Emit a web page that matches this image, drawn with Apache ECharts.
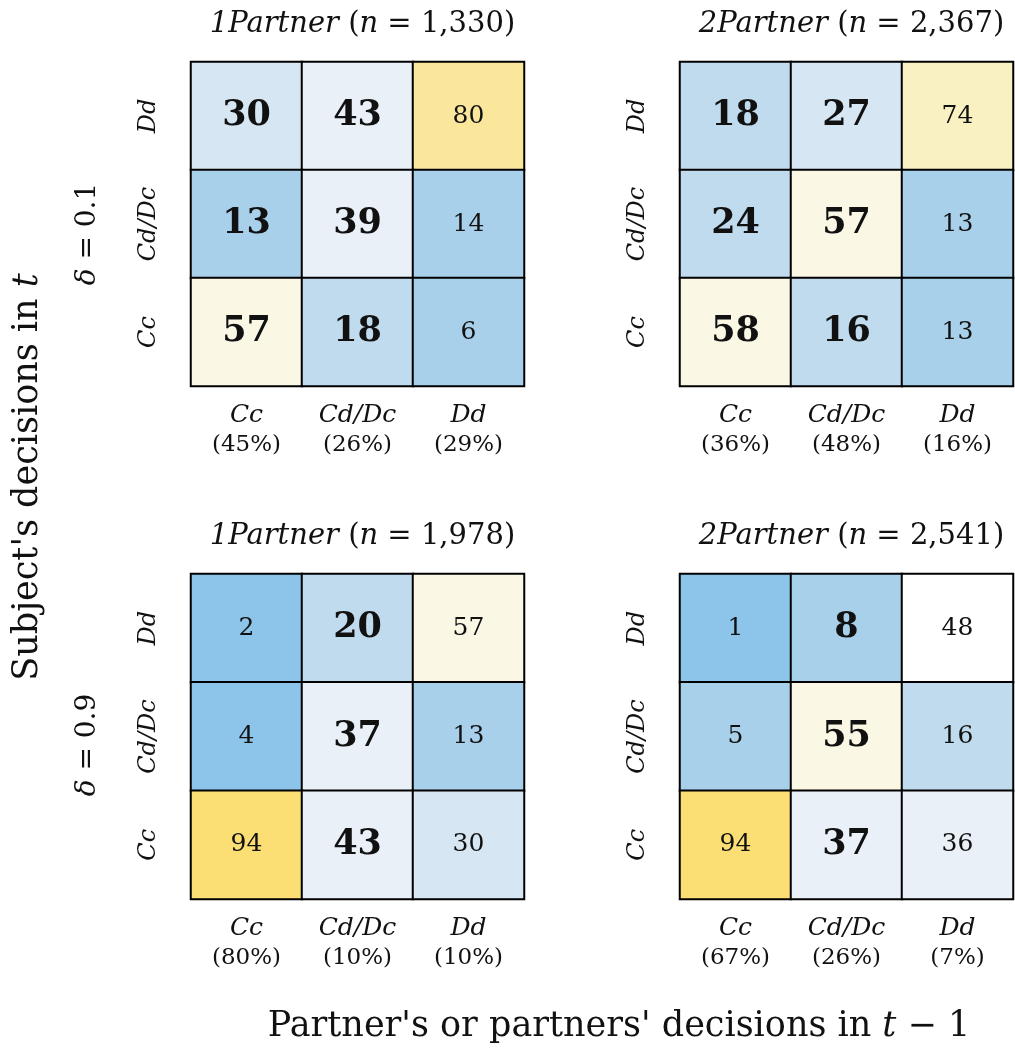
<!DOCTYPE html>
<html>
<head>
<meta charset="utf-8">
<script src="https://cdn.jsdelivr.net/npm/echarts@6/dist/echarts.min.js"></script>
<style>
  html, body { margin: 0; padding: 0; background: #fff; }
  #chart { width: 1015px; height: 1055px; }
</style>
</head>
<body>
<div id="chart"></div>
<script>
// Decision categories (bottom-to-top on the y axis, left-to-right on the x axis)
const decisions = ['Cc', 'Cd/Dc', 'Dd'];

// Panel headers
const treatments = ['1Partner', '2Partner', '1Partner', '2Partner'];
const sampleSizes = ['1,330', '2,367', '1,978', '2,541'];
const deltas = ['0.1', '0.9'];

// Cell values, rows listed top-to-bottom: Dd, Cd/Dc, Cc
const values1P_d01 = [[30, 43, 80], [13, 39, 14], [57, 18, 6]];
const values2P_d01 = [[18, 27, 74], [24, 57, 13], [58, 16, 13]];
const values1P_d09 = [[2, 20, 57], [4, 37, 13], [94, 43, 30]];
const values2P_d09 = [[1, 8, 48], [5, 55, 16], [94, 37, 36]];

// 1 = value printed in bold
const bold1P_d01 = [[1, 1, 0], [1, 1, 0], [1, 1, 0]];
const bold2P_d01 = [[1, 1, 0], [1, 1, 0], [1, 1, 0]];
const bold1P_d09 = [[0, 1, 0], [0, 1, 0], [0, 1, 0]];
const bold2P_d09 = [[0, 1, 0], [0, 1, 0], [0, 1, 0]];

// Share of partner decisions in t-1 (%), per column
const shares1P_d01 = [45, 26, 29];
const shares2P_d01 = [36, 48, 16];
const shares1P_d09 = [80, 10, 10];
const shares2P_d09 = [67, 26, 7];

const panelValues = [values1P_d01, values2P_d01, values1P_d09, values2P_d09];
const panelBold = [bold1P_d01, bold2P_d01, bold1P_d09, bold2P_d09];
const panelShares = [shares1P_d01, shares2P_d01, shares1P_d09, shares2P_d09];

const SERIF = '"DejaVu Serif", "Liberation Serif", serif';
const INK = '#111';

// Panel frames
const gridBoxes = [
  { left: 191, top: 62, width: 333, height: 324 },
  { left: 680, top: 62, width: 333, height: 324 },
  { left: 191, top: 574, width: 333, height: 325 },
  { left: 680, top: 574, width: 333, height: 325 }
];

function toHeatmapData(matrix, boldMatrix) {
  const out = [];
  matrix.forEach((row, r) => {
    const yIdx = decisions.length - 1 - r; // first row is the top (Dd)
    row.forEach((v, c) => {
      out.push([c, yIdx, v, boldMatrix[r][c]]);
    });
  });
  return out;
}

const grid = [], xAxis = [], yAxis = [], series = [], title = [];

gridBoxes.forEach((g, i) => {
  grid.push(Object.assign({ containLabel: false }, g));
  const shares = panelShares[i];
  xAxis.push({
    type: 'category', gridIndex: i, data: decisions,
    axisLine: { show: false }, axisTick: { show: false }, splitLine: { show: false },
    axisLabel: {
      margin: 14,
      fontFamily: SERIF, color: INK,
      formatter: (val, idx) => '{c|' + val + '}\n{p|(' + shares[idx] + '%)}',
      rich: {
        c: { fontFamily: SERIF, fontStyle: 'italic', fontSize: 25, lineHeight: 30, color: INK },
        p: { fontFamily: SERIF, fontSize: 23, lineHeight: 30, color: INK }
      }
    }
  });
  yAxis.push({
    type: 'category', gridIndex: i, data: decisions,
    axisLine: { show: false }, axisTick: { show: false }, splitLine: { show: false },
    axisLabel: {
      rotate: 90, margin: 30,
      fontFamily: SERIF, fontStyle: 'italic', fontSize: 24, color: INK
    }
  });
  series.push({
    type: 'heatmap', xAxisIndex: i, yAxisIndex: i,
    data: toHeatmapData(panelValues[i], panelBold[i]),
    itemStyle: { borderColor: '#000', borderWidth: 2 },
    emphasis: { disabled: true },
    label: {
      show: true,
      formatter: p => (p.data[3] ? '{b|' : '{n|') + p.data[2] + '}',
      rich: {
        b: { fontFamily: SERIF, fontWeight: 'bold', fontSize: 35, color: INK },
        n: { fontFamily: SERIF, fontSize: 25, color: INK }
      }
    }
  });
  title.push({
    text: '{i|' + treatments[i] + '} ({i|n} = ' + sampleSizes[i] + ')',
    left: g.left + g.width / 2,
    top: g.top - 57,
    textAlign: 'center',
    textStyle: {
      fontFamily: SERIF, fontSize: 29, fontWeight: 'normal', color: INK,
      rich: {
        i: { fontFamily: SERIF, fontStyle: 'italic', fontSize: 29, color: INK }
      }
    }
  });
});

const option = {
  backgroundColor: '#fff',
  animation: false,
  title: title,
  grid: grid,
  xAxis: xAxis,
  yAxis: yAxis,
  visualMap: {
    type: 'piecewise', show: false, dimension: 2,
    seriesIndex: [0, 1, 2, 3],
    pieces: [
      { gte: 0, lt: 5, color: '#8DC5EA' },
      { gte: 5, lt: 15, color: '#A8D0EA' },
      { gte: 15, lt: 25, color: '#C1DBEE' },
      { gte: 25, lt: 35, color: '#D6E6F3' },
      { gte: 35, lt: 45, color: '#E9F0F8' },
      { gte: 45, lt: 55, color: '#FFFFFF' },
      { gte: 55, lt: 65, color: '#FAF7E5' },
      { gte: 65, lt: 75, color: '#FAF1C3' },
      { gte: 75, lt: 85, color: '#FBE79B' },
      { gte: 85, lte: 100, color: '#FBDF74' }
    ]
  },
  graphic: [
    {
      type: 'text', x: 28, y: 477, rotation: Math.PI / 2,
      style: {
        text: "Subject's decisions in {i|t}",
        fontFamily: SERIF, fontSize: 35, fill: INK,
        align: 'center', verticalAlign: 'middle',
        rich: { i: { fontFamily: SERIF, fontStyle: 'italic', fontSize: 35, fill: INK } }
      }
    },
    {
      type: 'text', x: 619, y: 1027,
      style: {
        text: "Partner's or partners' decisions in {i|t} − 1",
        fontFamily: SERIF, fontSize: 35, fill: INK,
        align: 'center', verticalAlign: 'middle',
        rich: { i: { fontFamily: SERIF, fontStyle: 'italic', fontSize: 35, fill: INK } }
      }
    },
    {
      type: 'text', x: 88, y: 234, rotation: Math.PI / 2,
      style: {
        text: '{i|δ} = ' + deltas[0],
        fontFamily: SERIF, fontSize: 28, fill: INK,
        align: 'center', verticalAlign: 'middle',
        rich: { i: { fontFamily: SERIF, fontStyle: 'italic', fontSize: 28, fill: INK } }
      }
    },
    {
      type: 'text', x: 88, y: 745, rotation: Math.PI / 2,
      style: {
        text: '{i|δ} = ' + deltas[1],
        fontFamily: SERIF, fontSize: 28, fill: INK,
        align: 'center', verticalAlign: 'middle',
        rich: { i: { fontFamily: SERIF, fontStyle: 'italic', fontSize: 28, fill: INK } }
      }
    }
  ],
  series: series
};

const chart = echarts.init(document.getElementById('chart'), null, { renderer: 'canvas' });
chart.setOption(option);
</script>
</body>
</html>
